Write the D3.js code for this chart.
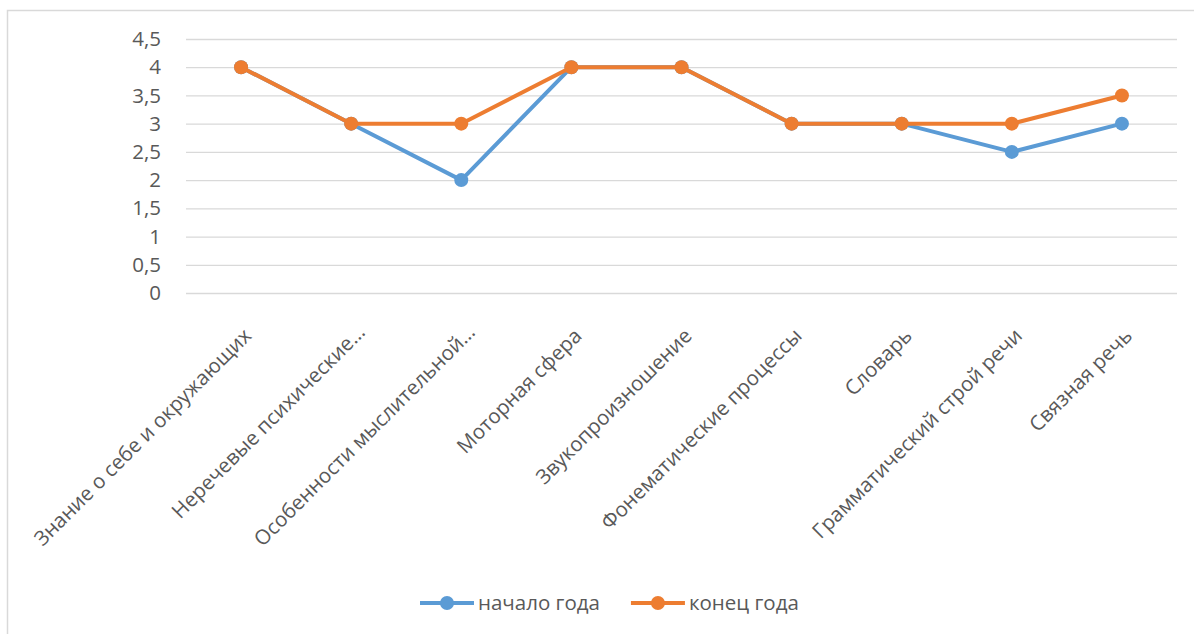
<!DOCTYPE html>
<html>
<head>
<meta charset="utf-8">
<script src="https://cdnjs.cloudflare.com/ajax/libs/d3/7.8.5/d3.min.js"></script>
<style>
  body { margin: 0; background: #fff; }
  svg text { font-family: "Open Sans", sans-serif; }
</style>
</head>
<body>
<script>
var categories = ["Знание о себе и окружающих", "Неречевые психические…", "Особенности мыслительной…",
    "Моторная сфера", "Звукопроизношение", "Фонематические процессы", "Словарь",
    "Грамматический строй речи", "Связная речь"];
var startYear = [4, 3, 2, 4, 4, 3, 3, 2.5, 3];
var endYear = [4, 3, 3, 4, 4, 3, 3, 3, 3.5];
var seriesNames = ["начало года", "конец года"];
var yTicks = [0, 0.5, 1, 1.5, 2, 2.5, 3, 3.5, 4, 4.5];

function drawChart() {
    var w = 1194, h = 634;
    var left = 186, right = 1177, top = 39, bottom = 293;
    var colors = ["#5B9BD5", "#ED7D31"];
    var textColor = "#595959";
    var fontSize = "20.5px";

    var svg = d3.select("body").append("svg")
        .attr("width", w)
        .attr("height", h);

    // chart area border
    svg.append("rect")
        .attr("x", 7.5).attr("y", 10.5)
        .attr("width", 1300).attr("height", 800)
        .style("fill", "none")
        .style("stroke", "#D9D9D9")
        .style("stroke-width", 1.5);

    var x = d3.scalePoint()
        .domain(categories)
        .range([left, right])
        .padding(0.5);

    var y = d3.scaleLinear()
        .domain([0, 4.5])
        .range([bottom, top]);

    // y axis with gridlines
    var yAxis = svg.append("g")
        .attr("transform", "translate(" + left + ",0)")
        .call(d3.axisLeft(y)
            .tickValues(yTicks)
            .tickSizeInner(-(right - left))
            .tickSizeOuter(0)
            .tickPadding(25)
            .tickFormat(function(d) { return String(d).replace(".", ","); }));
    yAxis.select(".domain").remove();
    yAxis.selectAll("line").style("stroke", "#D9D9D9").style("stroke-width", 1.3);
    yAxis.selectAll("text")
        .style("font-size", fontSize)
        .style("fill", textColor);

    // x axis labels, rotated
    var xAxis = svg.append("g")
        .attr("transform", "translate(0," + bottom + ")")
        .call(d3.axisBottom(x).tickSize(0));
    xAxis.select(".domain").remove();
    xAxis.selectAll("text")
        .attr("x", 0).attr("y", 0)
        .attr("dy", "0.35em")
        .attr("dx", function(d) { return d.slice(-1) === "…" ? 5 : 0; })
        .attr("transform", "translate(6,39) rotate(-45)")
        .style("text-anchor", "end")
        .style("font-size", fontSize)
        .style("fill", textColor);

    var series = [startYear, endYear];
    var line = d3.line()
        .x(function(d, i) { return x(categories[i]); })
        .y(function(d) { return y(d); });

    series.forEach(function(s, k) {
        var g = svg.append("g");
        g.append("path")
            .datum(s)
            .attr("d", line)
            .style("fill", "none")
            .style("stroke", colors[k])
            .style("stroke-width", 4)
            .style("stroke-linejoin", "round");
        g.selectAll("circle")
            .data(s)
            .enter().append("circle")
            .attr("cx", function(d, i) { return x(categories[i]); })
            .attr("cy", function(d) { return y(d); })
            .attr("r", 7)
            .style("fill", colors[k]);
    });

    // legend
    var legend = svg.append("g").attr("transform", "translate(420,603)");
    var lx = 0;
    seriesNames.forEach(function(name, k) {
        var item = legend.append("g").attr("transform", "translate(" + lx + ",0)");
        item.append("line")
            .attr("x1", 0).attr("x2", 54)
            .style("stroke", colors[k])
            .style("stroke-width", 4);
        item.append("circle")
            .attr("cx", 27).attr("r", 7)
            .style("fill", colors[k]);
        var t = item.append("text")
            .attr("x", 58)
            .attr("dy", "0.35em")
            .style("font-size", fontSize)
            .style("fill", textColor)
            .text(name);
        lx += 58 + t.node().getComputedTextLength() + 31;
    });
}

createChart = drawChart;
createChart();
</script>
</body>
</html>
